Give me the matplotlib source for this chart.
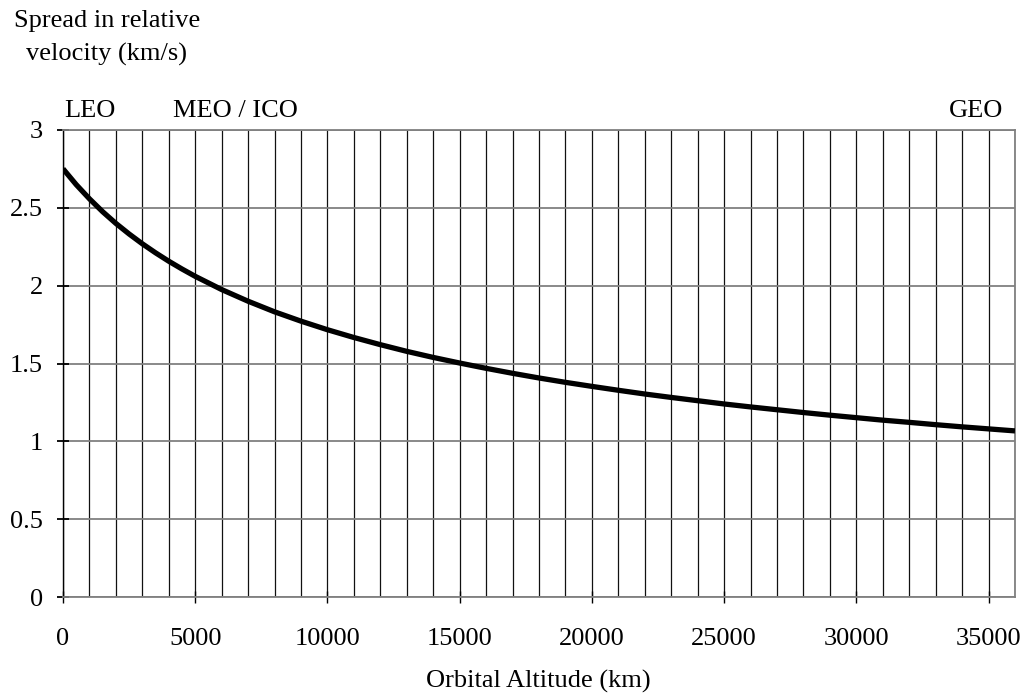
import numpy as np
import matplotlib.pyplot as plt
from matplotlib.ticker import MultipleLocator

# altitude (km) and spread in relative velocity (km/s)
altitude = [0, 500, 1000, 1500, 2000, 2500, 3000, 3500, 4000, 4500, 5000,
            6000, 7000, 8000, 9000, 10000, 11000, 12000, 13000, 14000, 15000,
            16000, 17000, 18000, 19000, 20000, 21000, 22000, 23000, 24000,
            25000, 26000, 27000, 28000, 29000, 30000, 31000, 32000, 33000,
            34000, 35000, 36000]
spread = [2.751, 2.649, 2.558, 2.475, 2.400, 2.332, 2.269, 2.211, 2.157,
          2.107, 2.060, 1.975, 1.900, 1.832, 1.772, 1.717, 1.667, 1.621,
          1.578, 1.539, 1.503, 1.469, 1.437, 1.407, 1.379, 1.353, 1.328,
          1.304, 1.282, 1.261, 1.240, 1.221, 1.203, 1.185, 1.168, 1.152,
          1.136, 1.122, 1.107, 1.093, 1.080, 1.067]

# orbit regime labels: (text, altitude, alignment)
regimes = [("LEO", 60, "left"), ("MEO / ICO", 4150, "left"), ("GEO", 35560, "right")]

plt.rcParams['font.family'] = ['Liberation Serif', 'DejaVu Serif']
FS = 19

fig = plt.figure(figsize=(10.26, 6.97), dpi=100)
ax = fig.add_axes([63/1026, 1 - 597/697, (1015-63)/1026, (597-130)/697])

ax.set_xlim(0, 36000)
ax.set_ylim(0, 3)

# grid: vertical every 1000, horizontal every 0.5
ax.xaxis.set_major_locator(MultipleLocator(5000))
ax.xaxis.set_minor_locator(MultipleLocator(1000))
ax.grid(True, which='both', axis='x', color='#111111', linewidth=0.9)
ax.grid(True, which='major', axis='y', color='#808080', linewidth=1.3)
ax.set_axisbelow(True)

ax.plot(altitude, spread, color='black', linewidth=3.8, solid_capstyle='butt',
        solid_joinstyle='round', zorder=3)

for s in ['top', 'right', 'bottom']:
    ax.spines[s].set_color('#808080')
    ax.spines[s].set_linewidth(1.3)
ax.spines['left'].set_color('black')
ax.spines['left'].set_linewidth(1.0)

ax.tick_params(axis='x', which='major', direction='inout', length=9, width=1.0,
               labelsize=FS, pad=18)
ax.tick_params(axis='x', which='minor', length=0)
ax.tick_params(axis='y', direction='inout', length=9, width=1.3,
               labelsize=FS, pad=10)
ax.set_yticks([0, 0.5, 1, 1.5, 2, 2.5, 3])
ax.set_yticklabels(['0', '0.5', '1', '1.5', '2', '2.5', '3'])

for name, xpos, ha in regimes:
    ax.text(xpos, 3.085, name, ha=ha, va='baseline', fontsize=FS, clip_on=False)

fig.text(107/1026, 1 - 10/697, "Spread in relative\nvelocity (km/s)", ha='center',
         va='top', multialignment='center', fontsize=FS, linespacing=1.6)
fig.text(538/1026, 1 - 681/697, "Orbital Altitude (km)", ha='center', va='center',
         fontsize=FS)

fig.savefig('out.png', dpi=100)
